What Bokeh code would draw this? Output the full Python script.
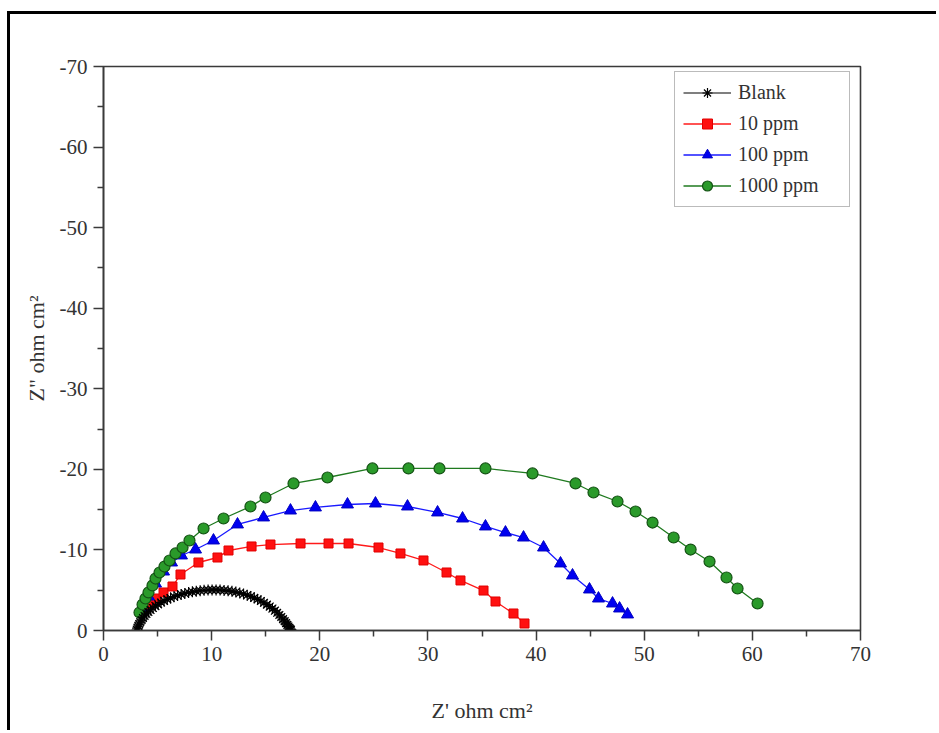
from bokeh.plotting import figure
from bokeh.layouts import column
from bokeh.models import Range1d, FixedTicker, Legend, LegendItem
from bokeh.embed import file_html
from bokeh.resources import INLINE

# ---- data (Z' in ohm cm2, Z'' in ohm cm2, negative) ----
blank_x = [3.10, 3.15, 3.22, 3.30, 3.40, 3.52, 3.65, 3.80, 3.97, 4.15, 4.35, 4.57, 4.80,
           5.05, 5.32, 5.60, 5.90, 6.20, 6.52, 6.85, 7.18, 7.52, 7.87, 8.22, 8.58, 8.94,
           9.30, 9.67, 10.04, 10.41, 10.78, 11.15, 11.52, 11.88, 12.24, 12.60, 12.95,
           13.29, 13.62, 13.94, 14.25, 14.55, 14.84, 15.11, 15.37, 15.62, 15.85, 16.06,
           16.26, 16.44, 16.60, 16.75, 16.88, 17.00, 17.10, 17.19, 17.27, 17.33]
blank_y = [-0.05, -0.30, -0.55, -0.80, -1.05, -1.30, -1.55, -1.80, -2.05, -2.30, -2.55,
           -2.80, -3.03, -3.25, -3.47, -3.67, -3.86, -4.04, -4.20, -4.35, -4.48, -4.60,
           -4.71, -4.80, -4.88, -4.94, -4.99, -5.02, -5.04, -5.04, -5.02, -4.98, -4.93,
           -4.86, -4.77, -4.66, -4.53, -4.39, -4.23, -4.05, -3.86, -3.66, -3.44, -3.21,
           -2.97, -2.72, -2.46, -2.20, -1.93, -1.67, -1.41, -1.16, -0.92, -0.70, -0.50,
           -0.32, -0.18, -0.08]

ppm10_x = [3.70, 4.35, 4.90, 5.55, 6.38, 7.12, 8.78, 10.54, 11.56, 13.69, 15.44, 18.22,
           20.81, 22.66, 25.43, 27.46, 29.59, 31.72, 33.01, 35.14, 36.25, 37.91, 38.93]
ppm10_y = [-2.48, -3.35, -3.97, -4.72, -5.46, -6.95, -8.44, -9.06, -9.93, -10.43, -10.67,
           -10.80, -10.80, -10.80, -10.30, -9.56, -8.69, -7.20, -6.21, -4.96, -3.60,
           -2.11, -0.87]

ppm100_x = [3.61, 4.16, 4.81, 5.55, 6.29, 7.21, 8.51, 10.17, 12.39, 14.80, 17.29, 19.60,
            22.56, 25.15, 28.11, 30.89, 33.20, 35.32, 37.17, 38.84, 40.69, 42.26, 43.37,
            44.94, 45.77, 47.07, 47.72, 48.46]
ppm100_y = [-2.73, -4.22, -5.83, -7.32, -8.44, -9.31, -10.05, -11.17, -13.16, -14.03,
            -14.89, -15.27, -15.64, -15.76, -15.39, -14.65, -13.90, -12.91, -12.16,
            -11.54, -10.30, -8.32, -6.83, -5.09, -3.97, -3.35, -2.73, -1.99]

ppm1000_x = [3.33, 3.61, 3.88, 4.16, 4.53, 4.81, 5.18, 5.64, 6.10, 6.66, 7.31, 7.95, 9.25,
             11.10, 13.59, 14.98, 17.57, 20.71, 24.87, 28.20, 31.07, 35.32, 39.67, 43.65,
             45.31, 47.53, 49.20, 50.77, 52.72, 54.29, 56.04, 57.61, 58.63, 60.48]
ppm1000_y = [-2.23, -3.23, -3.97, -4.72, -5.59, -6.45, -7.20, -7.94, -8.69, -9.56, -10.30,
             -11.17, -12.66, -13.90, -15.39, -16.51, -18.25, -18.99, -20.11, -20.11,
             -20.11, -20.11, -19.49, -18.25, -17.13, -16.01, -14.77, -13.40, -11.54,
             -10.05, -8.56, -6.58, -5.21, -3.35]

x_ticks = [0, 10, 20, 30, 40, 50, 60, 70]
x_minor = [5, 15, 25, 35, 45, 55, 65]
y_ticks = [0, -10, -20, -30, -40, -50, -60, -70]
y_minor = [-5, -15, -25, -35, -45, -55, -65]
y_tick_labels = ["0", "-10", "-20", "-30", "-40", "-50", "-60", "-70"]

FONT = "Liberation Serif"

p = figure(width=926, height=716, output_backend="svg", toolbar_location=None,
           x_range=Range1d(0, 70), y_range=Range1d(0, -70),
           min_border_left=93, min_border_right=76, min_border_top=52,
           min_border_bottom=100)
p.background_fill_color = "white"
p.border_fill_color = "white"
p.xgrid.visible = False
p.ygrid.visible = False
p.outline_line_color = "#3a3a3a"
p.outline_line_width = 1.6
p.outline_line_alpha = 1.0

p.xaxis.ticker = FixedTicker(ticks=x_ticks, minor_ticks=x_minor)
p.yaxis.ticker = FixedTicker(ticks=y_ticks, minor_ticks=y_minor)
p.yaxis.major_label_overrides = {t: s for t, s in zip(y_ticks, y_tick_labels)}
for ax in (p.xaxis, p.yaxis):
    ax.axis_line_color = "#3a3a3a"
    ax.axis_line_width = 1.6
    ax.major_tick_line_color = "#3a3a3a"
    ax.minor_tick_line_color = "#3a3a3a"
    ax.major_tick_line_width = 1.5
    ax.minor_tick_line_width = 1.5
    ax.major_tick_in = 0
    ax.major_tick_out = 10
    ax.minor_tick_in = 0
    ax.minor_tick_out = 6
    ax.major_label_text_font = FONT
    ax.major_label_text_font_size = "21px"
    ax.major_label_text_color = "#333333"
    ax.major_label_standoff = 6
    ax.axis_label_text_font = FONT
    ax.axis_label_text_font_size = "22px"
    ax.axis_label_text_font_style = "normal"
    ax.axis_label_text_color = "#333333"

p.xaxis.axis_label = "Z' ohm cm\u00b2"
p.xaxis.axis_label_standoff = 34
p.yaxis.axis_label = "Z\" ohm cm\u00b2"
p.yaxis.axis_label_standoff = 8

# series
r_red_l = p.line(ppm10_x, ppm10_y, line_color="#ff1a1a", line_width=1.3)
r_red_m = p.scatter(ppm10_x, ppm10_y, marker="square", size=9,
                    fill_color="#ff1010", line_color="#e00000")
r_blue_l = p.line(ppm100_x, ppm100_y, line_color="#1a1aff", line_width=1.3)
r_blue_m = p.scatter(ppm100_x, ppm100_y, marker="triangle", size=12,
                     fill_color="#0000f0", line_color="#0000c0")
r_green_l = p.line(ppm1000_x, ppm1000_y, line_color="#1f7a1f", line_width=1.3)
r_green_m = p.scatter(ppm1000_x, ppm1000_y, marker="circle", size=11,
                      fill_color="#2a9a2a", line_color="#145214", line_width=1.2)
r_blk_l = p.line(blank_x, blank_y, line_color="black", line_width=1.2)
r_blk_m = p.scatter(blank_x, blank_y, marker="asterisk", size=11,
                    line_color="black", line_width=1.2)

legend = Legend(items=[
    LegendItem(label="Blank", renderers=[r_blk_l, r_blk_m]),
    LegendItem(label="10 ppm", renderers=[r_red_l, r_red_m]),
    LegendItem(label="100 ppm", renderers=[r_blue_l, r_blue_m]),
    LegendItem(label="1000 ppm", renderers=[r_green_l, r_green_m]),
], location=(571, 423))
legend.label_text_font = FONT
legend.label_text_font_size = "20px"
legend.label_text_color = "#333333"
legend.glyph_width = 48
legend.glyph_height = 25
legend.label_height = 25
legend.label_width = 103
legend.label_standoff = 7
legend.spacing = 6
legend.padding = 8
legend.margin = 0
legend.border_line_color = "#777777"
legend.border_line_width = 1.5
legend.background_fill_color = "white"
legend.background_fill_alpha = 1.0
p.add_layout(legend)

# outer image border (left and top), drawn as a CSS border of a wrapping column
page = column(p, styles={"border-left": "3px solid black", "border-top": "3px solid black",
                         "margin-left": "7px", "margin-top": "11px"})

open("out.html", "w").write(file_html(page, INLINE))
